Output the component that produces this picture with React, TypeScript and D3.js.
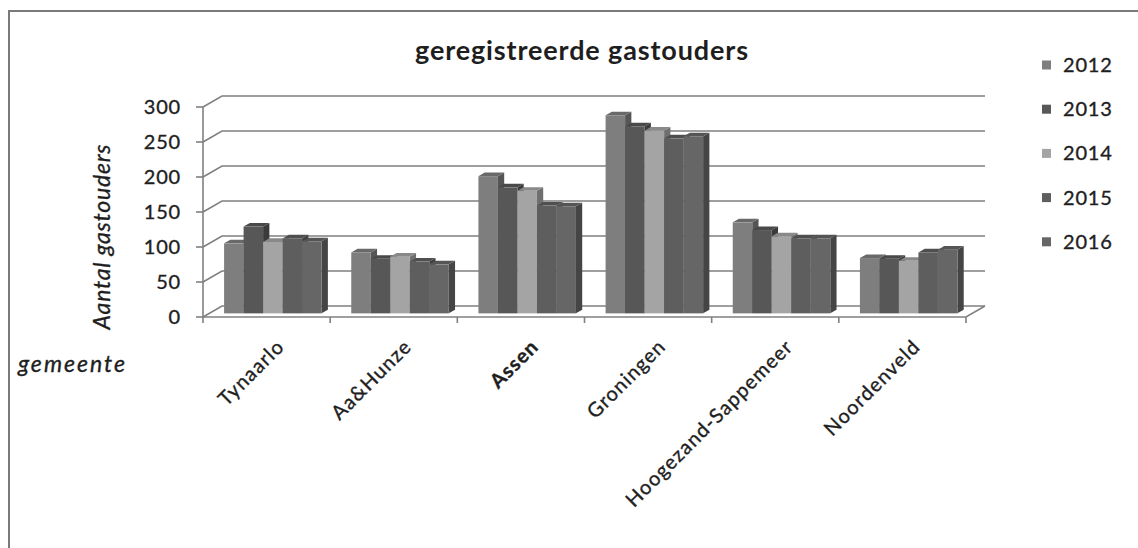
import * as d3 from 'd3';

const categories = ['Tynaarlo', 'Aa&Hunze', 'Assen', 'Groningen', 'Hoogezand-Sappemeer', 'Noordenveld'];
const years = ['2012', '2013', '2014', '2015', '2016'];
const values2012 = [100, 87, 196, 283, 130, 79];
const values2013 = [124, 78, 180, 267, 119, 78];
const values2014 = [102, 81, 175, 261, 110, 75];
const values2015 = [107, 74, 154, 250, 107, 87];
const values2016 = [103, 70, 153, 253, 107, 91];
const yTicks = [0, 50, 100, 150, 200, 250, 300];
const colors = ['#7e7e7e', '#575757', '#a4a4a4', '#5e5e5e', '#666666'];

const series = [values2012, values2013, values2014, values2015, values2016];

// plot geometry (front plane + oblique depth)
const X0 = 203;
const X1 = 966;
const DX = 19;
const DY = -11;
const FA = 0.33;
const FB = 0.66;
const FONT = 'Lato, Calibri, Carlito, sans-serif';
const INK = '#1e1e1e';

export default function App() {
    const y = d3.scaleLinear().domain([0, 300]).range([317, 107]);
    const xCat = d3.scaleBand<string>().domain(categories).range([X0, X1]);
    const xSer = d3
        .scaleBand<string>()
        .domain(years)
        .range([0, xCat.bandwidth()])
        .paddingInner(0)
        .paddingOuter(0.76);
    const w = xSer.bandwidth();
    const ddx = (FB - FA) * DX;
    const ddy = (FB - FA) * DY;
    const gridColor = '#808080';

    const bars: JSX.Element[] = [];
    categories.forEach((c, ci) => {
        years.forEach((yr, si) => {
            const v = series[si][ci];
            const base = d3.color(colors[si])!;
            const xl = (xCat(c) ?? 0) + (xSer(yr) ?? 0) + FA * DX;
            const xr = xl + w;
            const yt = y(v) + FA * DY;
            const yb = y(0) + FA * DY;
            const top = `${xl},${yt} ${xr},${yt} ${xr + ddx},${yt + ddy} ${xl + ddx},${yt + ddy}`;
            const side = `${xr},${yt} ${xr + ddx},${yt + ddy} ${xr + ddx},${yb + ddy} ${xr},${yb}`;
            bars.push(
                <g key={c + yr}>
                    <polygon points={side} fill={base.darker(1.1).formatHex()} />
                    <polygon points={top} fill={base.darker(0.5).formatHex()} />
                    <rect x={xl} y={yt} width={w} height={yb - yt} fill={colors[si]} />
                </g>
            );
        });
    });

    // scanned text looks heavier, thicken a little
    const heavy = { stroke: INK, strokeWidth: 0.35 };

    return (
        <svg
            width={1138}
            height={548}
            style={{ position: 'absolute', left: 0, top: 0, background: '#fff' }}
            fontFamily={FONT}
        >
            {/* chart frame */}
            <path d="M9,548 L9,11 L1138,11" fill="none" stroke="#7a7a7a" strokeWidth={2} />

            <text
                x={415}
                y={60}
                textLength={333}
                lengthAdjust="spacing"
                fontSize={27}
                fontWeight="bold"
                fill={INK}
            >
                geregistreerde gastouders
            </text>

            {/* back wall gridlines + side diagonals */}
            {yTicks.map((t) => (
                <path
                    key={'g' + t}
                    d={`M${X0},${y(t)} L${X0 + DX},${y(t) + DY} L${X1 + DX},${y(t) + DY}`}
                    fill="none"
                    stroke={gridColor}
                    strokeWidth={1.6}
                />
            ))}
            {/* floor */}
            <path
                d={`M${X0},${y(0)} L${X1},${y(0)} L${X1 + DX},${y(0) + DY}`}
                fill="none"
                stroke={gridColor}
                strokeWidth={1.6}
            />
            {/* front value axis */}
            <line x1={X0} x2={X0} y1={y(300)} y2={y(0)} stroke={gridColor} strokeWidth={1.6} />
            {yTicks.map((t) => (
                <g key={'t' + t}>
                    <line x1={X0 - 7} x2={X0} y1={y(t)} y2={y(t)} stroke={gridColor} strokeWidth={1.6} />
                    <text
                        x={181}
                        y={y(t)}
                        dy="0.35em"
                        textAnchor="end"
                        fontSize={20}
                        letterSpacing={0.8}
                        fill={INK}
                        {...heavy}
                    >
                        {t}
                    </text>
                </g>
            ))}
            {d3.range(categories.length + 1).map((i) => {
                const xx = X0 + i * xCat.step();
                return <line key={'b' + i} x1={xx} x2={xx} y1={y(0)} y2={y(0) + 6} stroke={gridColor} strokeWidth={1.6} />;
            })}

            {bars}

            {/* category labels */}
            {categories.map((c) => {
                const cx = (xCat(c) ?? 0) + xCat.bandwidth() / 2 + 14;
                const cy = 343;
                return (
                    <text
                        key={'l' + c}
                        transform={`translate(${cx},${cy}) rotate(-45)`}
                        textAnchor="end"
                        dy="0.35em"
                        fontSize={20}
                        letterSpacing={1.1}
                        fontWeight={c === 'Assen' ? 'bold' : 'normal'}
                        fill={INK}
                        {...heavy}
                    >
                        {c}
                    </text>
                );
            })}

            {/* axis titles */}
            <text
                transform="translate(110,237) rotate(-90)"
                textAnchor="middle"
                textLength={185}
                lengthAdjust="spacing"
                fontSize={23}
                fontStyle="italic"
                fill={INK}
                {...heavy}
            >
                Aantal gastouders
            </text>
            <text
                x={18}
                y={372}
                textLength={107}
                lengthAdjust="spacing"
                fontSize={23}
                fontStyle="italic"
                fill={INK}
                {...heavy}
            >
                gemeente
            </text>

            {/* legend */}
            {years.map((yr, i) => {
                const ly = 65 + i * 44.2;
                return (
                    <g key={'lg' + yr}>
                        <rect x={1042} y={ly - 4.5} width={9} height={9} fill={colors[i]} />
                        <text
                            x={1063}
                            y={ly}
                            dy="0.35em"
                            fontSize={20}
                            letterSpacing={0.8}
                            fill={INK}
                            {...heavy}
                        >
                            {yr}
                        </text>
                    </g>
                );
            })}
        </svg>
    );
}
